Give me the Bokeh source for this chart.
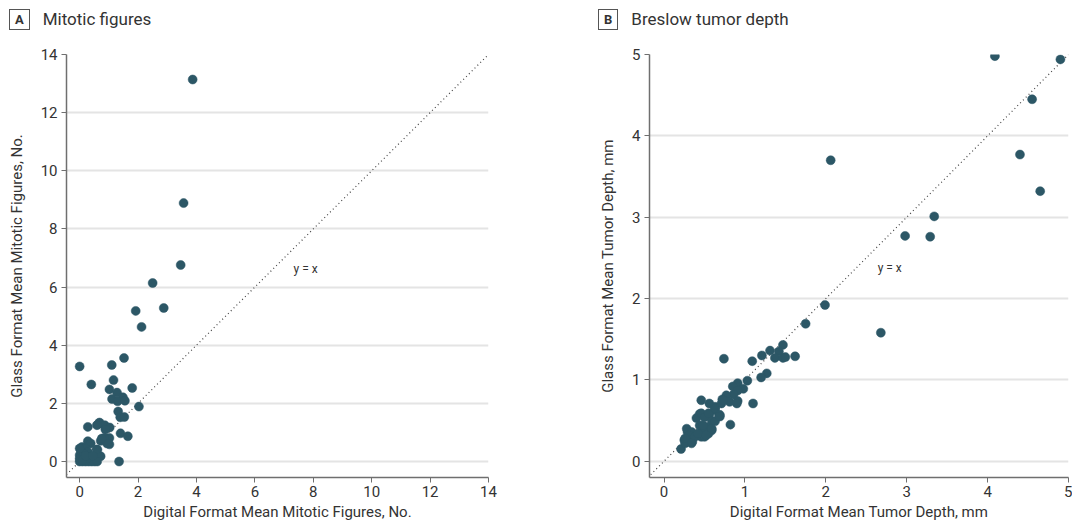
from bokeh.plotting import figure
from bokeh.models import Range1d, Div
from bokeh.layouts import row, column
from bokeh.core.properties import value
from bokeh.embed import file_html
from bokeh.resources import INLINE

# ---------------- data ----------------
mit_digital = [3.87, 3.56, 3.46, 2.50, 2.88, 1.92, 2.12, 0.00, 1.52, 1.10, 0.40, 1.16, 1.02, 1.28,
               1.80, 1.48, 1.11, 1.30, 1.55, 2.03, 1.32, 1.39, 1.53, 0.28, 0.62, 0.68, 0.86, 1.03,
               0.88, 1.40, 1.65, 1.02, 0.85, 0.72, 1.02, 0.28, 0.38, 0.61, 0.72, 1.35, 0.08, 0.19,
               0.14, 0.28, 0.33, 0.00, 0.00, 0.00, 0.10, 0.20, 0.30, 0.40, 0.50, 0.60, 0.05, 0.15,
               0.25, 0.00, 0.10, 0.20, 0.58, 0.45, 0.59, 0.94, 0.76]
mit_glass = [13.14, 8.89, 6.76, 6.14, 5.28, 5.18, 4.63, 3.27, 3.56, 3.32, 2.65, 2.80, 2.48, 2.37,
             2.53, 2.21, 2.15, 2.07, 2.09, 1.89, 1.72, 1.52, 1.53, 1.19, 1.27, 1.34, 1.25, 1.17,
             1.10, 0.97, 0.87, 0.81, 0.81, 0.71, 0.59, 0.70, 0.62, 0.41, 0.18, 0.00, 0.50, 0.45,
             0.30, 0.33, 0.16, 0.22, 0.10, 0.00, 0.00, 0.00, 0.00, 0.00, 0.00, 0.00, 0.35, 0.25,
             0.10, 0.45, 0.05, 0.20, 0.41, 0.20, 1.25, 0.62, 0.79]

depth_digital = [4.09, 4.90, 4.55, 4.40, 4.65, 2.06, 3.34, 2.98, 3.29, 2.68, 1.99, 1.75,
                 1.47, 1.31, 1.42, 1.21, 1.37, 1.47, 1.50, 1.62, 1.09, 0.74, 1.27, 1.20, 1.03,
                 0.91, 0.98, 0.85, 0.91, 0.86, 0.77, 0.72, 0.46, 0.56, 0.81, 0.91, 0.90, 1.10,
                 0.63, 0.71, 0.63, 0.56, 0.44, 0.68,
                 0.21, 0.25, 0.29, 0.28, 0.34, 0.35, 0.31, 0.40, 0.46, 0.40, 0.46, 0.50, 0.55,
                 0.63, 0.69, 0.59, 0.52, 0.48, 0.44, 0.59, 0.55, 0.50, 0.82, 0.73, 0.26, 0.38,
                 0.26, 0.34, 0.42, 0.48, 0.63, 0.59, 0.52, 0.69]
depth_glass = [4.98, 4.94, 4.45, 3.77, 3.32, 3.70, 3.01, 2.77, 2.76, 1.58, 1.92, 1.69,
               1.43, 1.36, 1.35, 1.30, 1.27, 1.27, 1.28, 1.29, 1.23, 1.26, 1.08, 1.03, 0.99,
               0.96, 0.89, 0.92, 0.87, 0.82, 0.81, 0.76, 0.75, 0.71, 0.73, 0.74, 0.71, 0.71,
               0.67, 0.71, 0.63, 0.57, 0.58, 0.56,
               0.15, 0.26, 0.36, 0.40, 0.36, 0.24, 0.32, 0.32, 0.30, 0.53, 0.59, 0.54, 0.59,
               0.65, 0.57, 0.49, 0.42, 0.38, 0.44, 0.38, 0.34, 0.30, 0.45, 0.75, 0.22, 0.30,
               0.28, 0.22, 0.34, 0.44, 0.49, 0.40, 0.32, 0.55]

mit_ticks = [0, 2, 4, 6, 8, 10, 12, 14]
depth_ticks = [0, 1, 2, 3, 4, 5]

FONT = "Roboto"
DOT = "#2c5766"
TXT = "#333333"


def make_panel(xs, ys, xr, yr, ticks, xlabel, ylabel, lab_xy, fw, bl, br):
    p = figure(frame_width=fw, frame_height=423, output_backend="svg", toolbar_location=None,
               x_range=Range1d(*xr), y_range=Range1d(*yr),
               min_border_left=bl, min_border_right=br, min_border_top=14,
               min_border_bottom=47)
    p.outline_line_color = None
    p.background_fill_color = "white"
    p.xgrid.visible = False
    p.ygrid.grid_line_color = "#e4e4e4"
    p.ygrid.grid_line_width = 2
    p.xaxis.ticker = ticks
    p.yaxis.ticker = ticks
    for ax in (p.xaxis, p.yaxis):
        ax.axis_line_color = "#6f6f6f"
        ax.axis_line_width = 1.5
        ax.major_tick_line_color = "#6f6f6f"
        ax.major_tick_out = 5
        ax.major_tick_in = 0
        ax.minor_tick_line_color = None
        ax.major_label_text_font = FONT
        ax.major_label_text_font_size = "15px"
        ax.major_label_text_color = TXT
        ax.axis_label_text_font = FONT
        ax.axis_label_text_font_size = "15px"
        ax.axis_label_text_font_style = "normal"
        ax.axis_label_text_color = TXT
    p.xaxis.axis_label = xlabel
    p.yaxis.axis_label = ylabel
    p.xaxis.axis_label_standoff = 3
    p.yaxis.axis_label_standoff = 12
    p.xaxis.major_label_standoff = 3
    p.yaxis.major_label_standoff = 4
    lo = min(xr[0], yr[0])
    hi = max(xr[1], yr[1])
    p.line([lo, hi], [lo, hi], line_color="#444444", line_width=1.2, line_dash="1 3")
    p.scatter(xs, ys, size=9, fill_color=DOT, line_color=DOT, line_width=0.5)
    p.text(x=[lab_xy[0]], y=[lab_xy[1]], text=["y = x"], text_font=value(FONT),
           text_font_size="12px", text_color=TXT, text_align="center",
           text_baseline="middle")
    return p


def header(letter, title, width, ml):
    html = (f'<div style="display:flex;align-items:center;margin-left:{ml}px;padding-top:2px;'
            f'font-family:Roboto;color:#333;">'
            f'<span style="border:1px solid #555;padding:0px 5px;font-weight:bold;'
            f'font-size:13px;line-height:19px;">{letter}</span>'
            f'<span style="font-size:17px;margin-left:13px;">{title}</span></div>')
    return Div(text=html, width=width, height=30)


pA = make_panel(mit_digital, mit_glass, (-0.45, 14), (-0.55, 14), mit_ticks,
                "Digital Format Mean Mitotic Figures, No.",
                "Glass Format Mean Mitotic Figures, No.", (7.74, 6.62), 422, 66, 34)
pB = make_panel(depth_digital, depth_glass, (-0.18, 5.0), (-0.2, 5.0), depth_ticks,
                "Digital Format Mean Tumor Depth, mm",
                "Glass Format Mean Tumor Depth, mm", (2.79, 2.37), 419, 117, 4)

hA = header("A", "Mitotic figures", 522, 4)
hB = header("B", "Breslow tumor depth", 540, 61)

layout = row(column(hA, pA, spacing=0), column(hB, pB, spacing=0), spacing=0)

open("out.html", "w").write(file_html(layout, INLINE))
